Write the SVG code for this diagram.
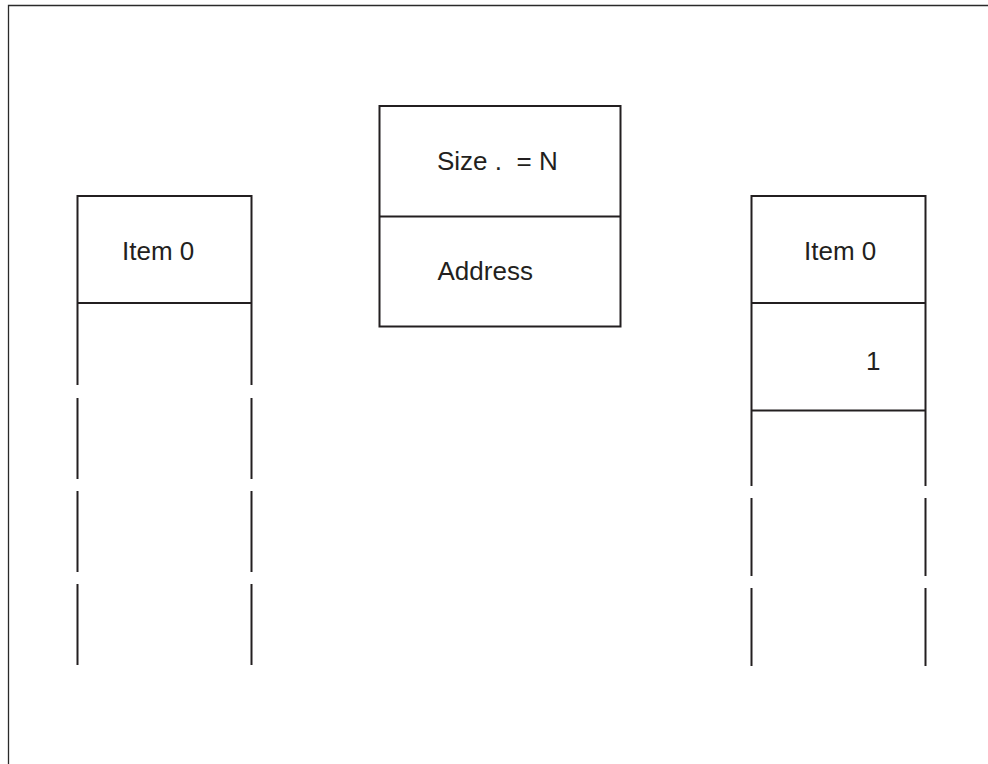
<svg xmlns="http://www.w3.org/2000/svg" width="988" height="764" viewBox="0 0 988 764">
<style>
.frame{fill:none;stroke:#2a2a2a;stroke-width:1.3}
.box{fill:none;stroke:#231f20;stroke-width:2}
.ln{stroke:#231f20;stroke-width:2;fill:none}
.t{font-family:"Liberation Sans",Arial,sans-serif;font-size:26px;fill:#231f20}
</style>
<rect width="988" height="764" fill="#fff"/>
<path class="frame" d="M8.5,764 V5.5 H988"/>
<g id="left-array">
<path class="ln" d="M77.5,385 V196 H251.5 V385 M77.5,303 H251.5"/>
<path class="ln" d="M77.5,398 V479 M77.5,491 V572 M77.5,584 V665 M251.5,398 V479 M251.5,491 V572 M251.5,584 V665"/>
<text class="t" x="122" y="260">Item 0</text>
</g>
<g id="descriptor">
<rect class="box" x="379.5" y="106" width="241" height="220.5"/>
<path class="ln" d="M379.5,216.5 H620.5"/>
<text class="t" x="437" y="169.5" xml:space="preserve">Size .  = N</text>
<text class="t" x="437.5" y="280">Address</text>
</g>
<g id="right-array">
<path class="ln" d="M751.5,486 V196 H925.5 V486 M751.5,303 H925.5 M751.5,410.5 H925.5"/>
<path class="ln" d="M751.5,498 V576 M751.5,588 V666 M925.5,498 V576 M925.5,588 V666"/>
<text class="t" x="804" y="260">Item 0</text>
<text class="t" x="866" y="370">1</text>
</g>
<g id="connectors"></g>
</svg>
